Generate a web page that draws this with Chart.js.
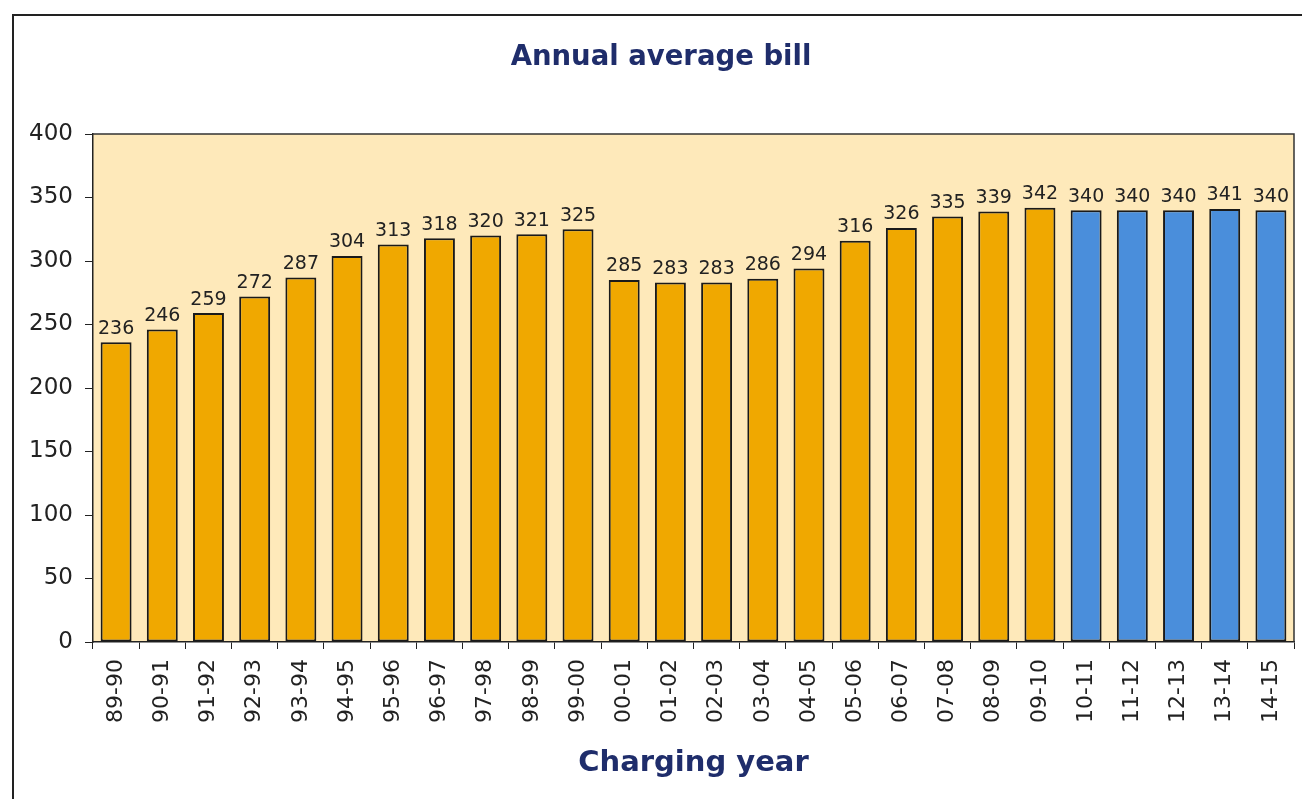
<!DOCTYPE html>
<html>
<head>
<meta charset="utf-8">
<script src="https://cdn.jsdelivr.net/npm/chart.js@4/dist/chart.umd.min.js"></script>
<style>
  html, body { margin: 0; padding: 0; background: #fff; overflow: hidden; }
  #frame { position: absolute; left: 12px; top: 14px; width: 1340px; height: 820px; border: 2px solid #222; box-sizing: border-box; }
  #wrap { position: absolute; left: 0; top: 0; width: 1322px; height: 799px; }
</style>
</head>
<body>
<div id="frame"></div>
<div id="wrap"><canvas id="c"></canvas></div>
<script>
const categories = ["89-90","90-91","91-92","92-93","93-94","94-95","95-96","96-97","97-98","98-99","99-00","00-01","01-02","02-03","03-04","04-05","05-06","06-07","07-08","08-09","09-10","10-11","11-12","12-13","13-14","14-15"];
const billValues = [236,246,259,272,287,304,313,318,320,321,325,285,283,283,286,294,316,326,335,339,342,340,340,340,341,340];
const forecastFrom = "10-11";
const yTicks = [0,50,100,150,200,250,300,350,400];

const orange = "#F0A800";
const blue = "#4A8EDB";
const forecastIndex = categories.indexOf(forecastFrom);
const barColors = categories.map((c, i) => i >= forecastIndex ? blue : orange);

const plotBg = {
  id: "plotBg",
  beforeDraw(chart) {
    const { ctx, chartArea: a } = chart;
    ctx.save();
    ctx.fillStyle = "#FEE9BA";
    ctx.fillRect(a.left, a.top, a.right - a.left, a.bottom - a.top);
    ctx.restore();
  },
  afterDatasetsDraw(chart) {
    const { ctx, chartArea: a } = chart;
    ctx.save();
    ctx.strokeStyle = "#333";
    ctx.lineWidth = 1.5;
    ctx.beginPath();
    ctx.moveTo(a.left, a.top);
    ctx.lineTo(a.right, a.top);
    ctx.lineTo(a.right, a.bottom);
    ctx.stroke();
    ctx.restore();
  }
};

const valueLabels = {
  id: "valueLabels",
  afterDatasetsDraw(chart) {
    const { ctx } = chart;
    const meta = chart.getDatasetMeta(0);
    ctx.save();
    ctx.fillStyle = "#222";
    ctx.font = "19px 'DejaVu Sans'";
    ctx.textAlign = "center";
    ctx.textBaseline = "bottom";
    meta.data.forEach((bar, i) => {
      ctx.fillText(String(billValues[i]), bar.x, bar.y - 4);
    });
    ctx.restore();
  }
};

new Chart(document.getElementById("c"), {
  type: "bar",
  data: {
    labels: categories,
    datasets: [{
      data: billValues,
      backgroundColor: barColors,
      borderColor: "#1a1a1a",
      borderWidth: 2,
      borderSkipped: false,
      barPercentage: 0.67,
      categoryPercentage: 1.0
    }]
  },
  options: {
    responsive: true,
    maintainAspectRatio: false,
    animation: false,
    layout: { padding: { left: 28, right: 28, top: 0, bottom: 0 } },
    plugins: {
      legend: { display: false },
      tooltip: { enabled: false },
      title: {
        display: true,
        text: "Annual average bill",
        color: "#1F2D6B",
        font: { family: "'DejaVu Sans'", size: 27.5, weight: "bold" },
        padding: { top: 41, bottom: 60 }
      }
    },
    scales: {
      x: {
        grid: { drawOnChartArea: false, drawTicks: true, tickLength: 7, color: "#222", offset: true },
        border: { color: "#222", width: 1.5 },
        ticks: {
          color: "#222",
          font: { family: "'DejaVu Sans'", size: 22 },
          minRotation: 90, maxRotation: 90,
          padding: 10,
          autoSkip: false
        },
        title: {
          display: true,
          text: "Charging year",
          color: "#1F2D6B",
          font: { family: "'DejaVu Sans'", size: 29, weight: "bold" },
          padding: { top: 0, bottom: 18 }
        },
        afterFit(scale) { scale.height = 157; }
      },
      y: {
        min: 0, max: 400,
        afterBuildTicks(scale) { scale.ticks = yTicks.map(v => ({ value: v })); },
        grid: { drawOnChartArea: false, drawTicks: true, tickLength: 8, color: "#222" },
        border: { color: "#222", width: 1.5 },
        ticks: {
          color: "#222",
          font: { family: "'DejaVu Sans'", size: 23 },
          padding: 12
        },
        afterFit(scale) { scale.width = 65; }
      }
    }
  },
  plugins: [plotBg, valueLabels]
});
</script>
</body>
</html>
